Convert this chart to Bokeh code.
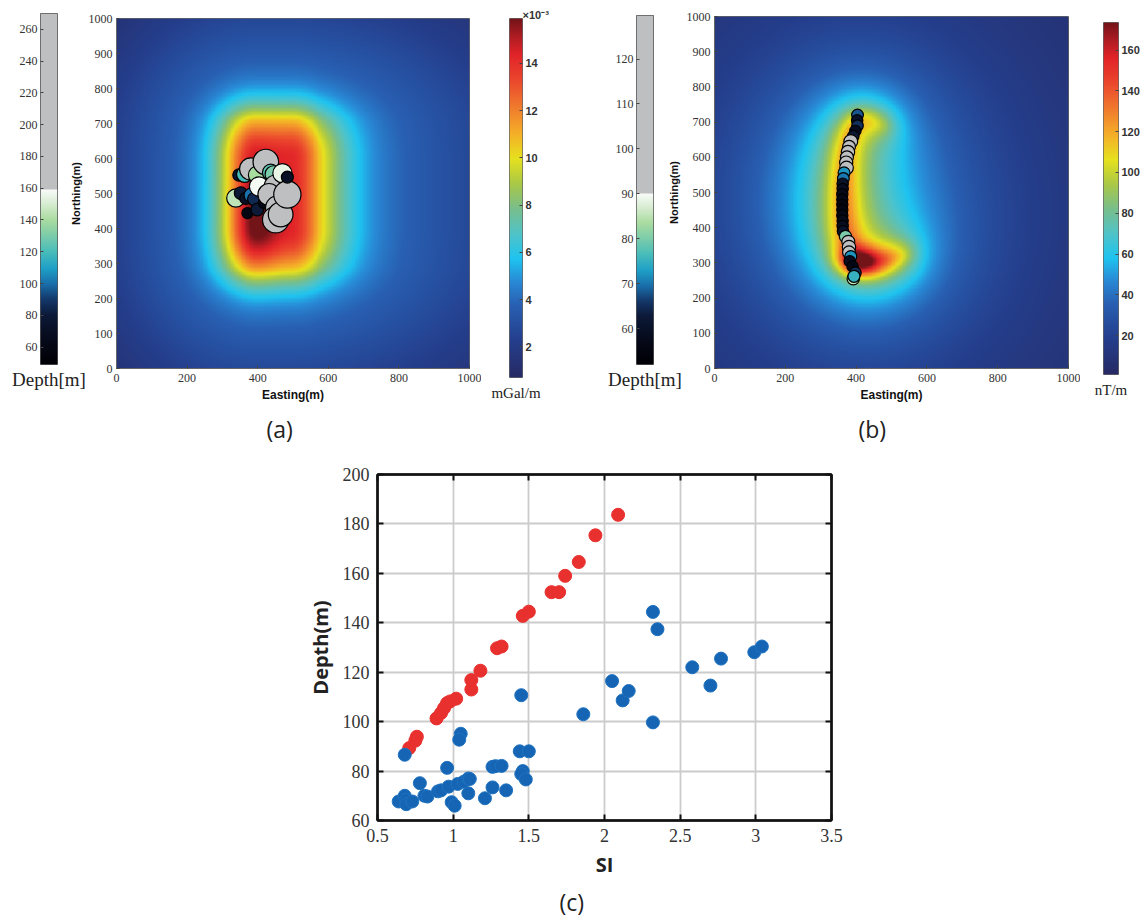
import numpy as np
from bokeh.plotting import figure
from bokeh.layouts import row, column
from bokeh.models import LinearAxis, FixedTicker, Range1d, Title
from bokeh.embed import file_html
from bokeh.resources import INLINE

# ------------------------------------------------------------------ data
# panel (c): structural index vs depth
red_si = [0.71, 0.75, 0.76, 0.89, 0.92, 0.94, 0.96, 0.98, 1.02, 1.12, 1.12, 1.18,
          1.29, 1.32, 1.46, 1.50, 1.65, 1.70, 1.74, 1.83, 1.94, 2.09]
red_depth = [89.3, 92.3, 93.9, 101.3, 103.5, 105.5, 107.5, 108.2, 109.3, 113.0, 116.8, 120.6,
             129.7, 130.4, 142.8, 144.5, 152.4, 152.4, 159.0, 164.6, 175.4, 183.7]
blue_si = [0.64, 0.68, 0.69, 0.69, 0.73, 0.68, 0.78, 0.81, 0.83, 0.90, 0.92, 0.96, 0.97, 0.99,
           1.01, 1.03, 1.05, 1.04, 1.07, 1.10, 1.11, 1.10, 1.21, 1.26, 1.26, 1.28, 1.32, 1.35,
           1.44, 1.50, 1.45, 1.46, 1.45, 1.48, 1.86, 2.05, 2.12, 2.16, 2.32, 2.32, 2.35, 2.58,
           2.70, 2.77, 2.99, 3.04]
blue_depth = [67.7, 70.0, 68.4, 66.6, 67.7, 86.6, 75.1, 70.0, 69.7, 71.8, 72.2, 81.3, 73.7, 67.4,
              66.0, 74.8, 95.1, 92.7, 75.7, 77.0, 76.8, 71.0, 69.0, 73.4, 81.7, 82.0, 82.1, 72.2,
              88.0, 88.0, 110.7, 80.0, 78.8, 76.6, 103.0, 116.4, 108.6, 112.4, 99.7, 144.4, 137.4,
              122.0, 114.6, 125.5, 128.1, 130.4]
si_ticks = [0.5, 1, 1.5, 2, 2.5, 3, 3.5]
depth_ticks = [60, 80, 100, 120, 140, 160, 180, 200]

# panel (a): gravity solutions
a_east = [347, 363, 380, 399, 338, 352, 366, 382, 390, 371, 399, 418, 404, 423, 437, 445,
          451, 432, 456, 451, 465, 470, 484, 484]
a_north = [553, 555, 570, 553, 487, 501, 486, 495, 484, 444, 454, 473, 520, 590, 560, 555,
           520, 497, 459, 425, 440, 558, 497, 547]
a_depth = [75, 120, 190, 140, 145, 80, 70, 100, 85, 60, 80, 62, 158, 230, 125, 130,
           200, 190, 210, 240, 220, 155, 250, 70]
# panel (b): magnetic solutions
b_east = [404, 403, 404, 398, 392, 385, 380, 377, 374, 372, 373, 366, 364, 362, 362, 361, 361,
          361, 361, 361, 362, 362, 363, 370, 378, 380, 380, 385, 382, 390, 398, 392, 394]
b_north = [720, 705, 690, 675, 660, 645, 630, 615, 600, 585, 570, 556, 540, 525, 510, 495, 480,
           465, 450, 435, 420, 405, 390, 375, 360, 345, 330, 318, 305, 290, 272, 255, 262]
b_depth = [68, 60, 65, 58, 62, 120, 95, 110, 100, 105, 115, 72, 70, 60, 58, 57, 56,
           55, 55, 56, 57, 58, 60, 80, 100, 110, 95, 72, 58, 56, 65, 85, 75]

map_x_ticks = [0, 200, 400, 600, 800, 1000]
map_y_ticks = [0, 100, 200, 300, 400, 500, 600, 700, 800, 900, 1000]

# colour-bar scales
a_cb_low, a_cb_high, a_cb_ticks = 0.7, 15.9, [2, 4, 6, 8, 10, 12, 14]          # x1e-3 mGal/m
b_cb_low, b_cb_high, b_cb_ticks = 1.0, 173.5, [20, 40, 60, 80, 100, 120, 140, 160]  # nT/m
a_dep_low, a_dep_high, a_dep_gray = 49.0, 270.0, 159.0
a_dep_ticks = [60, 80, 100, 120, 140, 160, 180, 200, 220, 240, 260]
b_dep_low, b_dep_high, b_dep_gray = 52.0, 129.7, 90.0
b_dep_ticks = [60, 70, 80, 90, 100, 110, 120]

# anomaly source models (used to synthesise the gridded maps)
a_core_e = (395, 495)                 # core of gravity body (easting)
a_core_n = (400, 600)                 # core of gravity body (northing)
a_edge_left = [0, 73, 145]            # distance beyond core -> yellow (1) / cyan (2) contour
a_edge_right = [0, 80, 192]
a_edge_top = [0, 112, 186]
a_edge_bottom = [0, 115, 192]
b_src_e = [555, 490, 430, 388, 366, 364, 370, 385, 402, 445, 495]
b_src_n = [330, 308, 294, 298, 400, 520, 625, 690, 712, 706, 684]
b_src_w = [0.9, 1.25, 1.3, 1.25, 1.0, 1.0, 1.0, 1.0, 1.0, 1.0, 0.85]

# ------------------------------------------------------------------ colour maps
JET = [(0.00, (38, 42, 100)), (0.10, (36, 62, 140)), (0.20, (40, 95, 178)), (0.27, (40, 140, 215)),
       (0.33, (30, 195, 240)), (0.40, (80, 195, 200)), (0.47, (120, 190, 140)), (0.54, (170, 200, 70)),
       (0.61, (230, 225, 30)), (0.68, (245, 175, 40)), (0.75, (240, 125, 45)), (0.83, (235, 70, 45)),
       (0.90, (225, 35, 40)), (0.95, (175, 28, 35)), (1.00, (115, 20, 25))]
DEPTH_CM = [(0.00, (0, 0, 5)), (0.12, (5, 8, 22)), (0.28, (12, 25, 55)), (0.37, (20, 55, 105)),
            (0.46, (25, 110, 170)), (0.55, (30, 160, 200)), (0.65, (75, 190, 185)),
            (0.74, (125, 205, 170)), (0.83, (170, 220, 160)), (0.92, (215, 236, 210)),
            (1.00, (248, 252, 248))]
GRAY = (190, 191, 193)
SERIF = "Liberation Serif"
SANS = "Liberation Sans"


def interp_rgb(stops, t):
    t = np.clip(np.asarray(t, float), 0, 1)
    pos = [s[0] for s in stops]
    cols = np.array([s[1] for s in stops], float)
    return np.stack([np.interp(t, pos, cols[:, k]) for k in range(3)], axis=-1)


def to_rgba(rgb):
    h, w = rgb.shape[:2]
    img = np.empty((h, w), dtype=np.uint32)
    v = img.view(dtype=np.uint8).reshape((h, w, 4))
    v[..., :3] = np.round(rgb).astype(np.uint8)
    v[..., 3] = 255
    return img


def depth_rgb(d, lo, thr):
    d = np.asarray(d, float)
    rgb = interp_rgb(DEPTH_CM, (d - lo) / (thr - lo))
    rgb[d > thr] = GRAY
    return rgb


def hexcol(c):
    return "#%02x%02x%02x" % tuple(int(round(x)) for x in c)


# ------------------------------------------------------------------ gridded fields
n = 260
g = np.linspace(0, 1000, n)
E, N = np.meshgrid(g, g)


def side_scale(dist, edges):
    # map a distance beyond the core onto contour units (1 = yellow, 2 = cyan, linear beyond)
    slope = edges[2] - edges[1]
    return np.where(dist <= edges[2], np.interp(dist, edges, [0, 1, 2]), 2 + (dist - edges[2]) / slope)


u = np.where(E < a_core_e[0], side_scale(a_core_e[0] - E, a_edge_left),
             np.where(E > a_core_e[1], side_scale(E - a_core_e[1], a_edge_right), 0.0))
v = np.where(N < a_core_n[0], side_scale(a_core_n[0] - N, a_edge_bottom),
             np.where(N > a_core_n[1], side_scale(N - a_core_n[1], a_edge_top), 0.0))
r = np.hypot(u, v)
field_a = (0.5 + 9.5 * np.exp(-0.45 * r ** 2) + 4.2 * np.exp(-(r / 6.0) ** 2)
           + 2.2 * np.exp(-((E - 400) / 60.0) ** 2 - ((N - 430) / 150.0) ** 2))

# (b) magnetic gradient: line sources along a C-shaped path
pe, pn, pw, pds = [], [], [], []
for i in range(len(b_src_e) - 1):
    e0, n0, w0 = b_src_e[i], b_src_n[i], b_src_w[i]
    e1, n1, w1 = b_src_e[i + 1], b_src_n[i + 1], b_src_w[i + 1]
    L = np.hypot(e1 - e0, n1 - n0)
    m = max(int(L / 4), 1)
    s = (np.arange(m) + 0.5) / m
    pe += list(e0 + s * (e1 - e0)); pn += list(n0 + s * (n1 - n0))
    pw += list(w0 + s * (w1 - w0)); pds += [L / m] * m
K1 = np.zeros_like(E); K2 = np.zeros_like(E)
h1, h2 = 42.0, 250.0
for e_, n_, w_, ds_ in zip(pe, pn, pw, pds):
    r2 = (E - e_) ** 2 + (N - n_) ** 2
    K1 += w_ * ds_ / (1 + r2 / h1 ** 2)
    K2 += w_ * ds_ / (1 + r2 / h2 ** 2)
field_b = (2 + 0.63 * K1 + 0.088 * K2
           + 52 * np.exp(-((E - 408) / 58.0) ** 2 - ((N - 305) / 38.0) ** 2))

img_a = to_rgba(interp_rgb(JET, (field_a - a_cb_low) / (a_cb_high - a_cb_low)))
img_b = to_rgba(interp_rgb(JET, (field_b - b_cb_low) / (b_cb_high - b_cb_low)))

# ------------------------------------------------------------------ helpers
TOP_H = 450
BOT_H = 470


def style_axis(ax, ticks, font, size, color="#333", style="normal", tin=3, tout=0, standoff=4):
    ax.ticker = FixedTicker(ticks=ticks)
    ax.major_label_text_font = font
    ax.major_label_text_font_size = f"{size}px"
    ax.major_label_text_font_style = style
    ax.major_label_text_color = color
    ax.major_tick_in = tin
    ax.major_tick_out = tout
    ax.major_tick_line_color = "#444"
    ax.minor_tick_line_color = None
    ax.major_label_standoff = standoff


def label_axis(p, text, size, standoff, font=SERIF, side="below"):
    ax = LinearAxis(ticker=FixedTicker(ticks=[]), axis_line_color=None,
                    major_tick_line_color=None, minor_tick_line_color=None,
                    major_label_standoff=0, axis_label=text, axis_label_text_font=font,
                    axis_label_text_font_size=f"{size}px", axis_label_text_font_style="normal",
                    axis_label_text_color="#222", axis_label_standoff=standoff)
    p.add_layout(ax, side)


def new_fig(width, height, xr, yr, l, r, t, b, **kw):
    p = figure(width=width, height=height, x_range=xr, y_range=yr, title=None,
               min_border_left=l, min_border_right=r, min_border_top=t, min_border_bottom=b,
               toolbar_location=None, output_backend="svg", frame_align=False, **kw)
    p.grid.visible = False
    p.border_fill_color = None
    return p


def top_fig(width, left, fw, top, fh, shift=0, **kw):
    return new_fig(width, TOP_H, kw.pop("xr"), kw.pop("yr"), left, width - left - fw,
                   top, TOP_H - top - fh, margin=(0, 0, 0, shift), **kw)


def depth_bar(width, left, top, fh, lo, hi, thr, ticks):
    p = top_fig(width, left, 17, top, fh, xr=Range1d(0, 1), yr=Range1d(lo, hi), x_axis_type=None)
    vals = np.linspace(lo, hi, 500)
    p.image_rgba(image=[to_rgba(depth_rgb(vals, lo, thr)[:, None, :])], x=0, y=lo, dw=1, dh=hi - lo)
    ax = p.yaxis[0]
    style_axis(ax, ticks, SERIF, 12, tin=3, standoff=3)
    ax.axis_line_color = None
    p.outline_line_color = "#555"
    label_axis(p, "Depth[m]", 19, 4)
    return p


def jet_bar(width, left, barw, top, fh, lo, hi, ticks, unit):
    p = top_fig(width, left, barw, top, fh, xr=Range1d(0, 1), yr=Range1d(lo, hi),
                x_axis_type=None, y_axis_location="right")
    vals = np.linspace(lo, hi, 500)
    p.image_rgba(image=[to_rgba(interp_rgb(JET, (vals - lo) / (hi - lo))[:, None, :])],
                 x=0, y=lo, dw=1, dh=hi - lo)
    ax = p.yaxis[0]
    style_axis(ax, ticks, SANS, 11, style="bold", tin=3, standoff=3)
    ax.axis_line_color = None
    p.outline_line_color = "#666"
    label_axis(p, unit, 15, 7)
    return p


def map_fig(width, left, fw, top, fh, img, east, north, cols, sizes, tag, tag_offset, shift):
    p = top_fig(width, left, fw, top, fh, shift=shift, xr=Range1d(0, 1000), yr=Range1d(0, 1000))
    p.image_rgba(image=[img], x=0, y=0, dw=1000, dh=1000)
    p.scatter(east, north, size=sizes, fill_color=cols, line_color="black", line_width=1.2)
    style_axis(p.xaxis[0], map_x_ticks, SERIF, 12, tin=3, standoff=5)
    style_axis(p.yaxis[0], map_y_ticks, SERIF, 12, tin=3, standoff=4)
    for ax, lab in ((p.xaxis[0], "Easting(m)"), (p.yaxis[0], "Northing(m)")):
        ax.axis_label = lab
        ax.axis_label_text_font = SANS
        ax.axis_label_text_font_size = "12px" if lab.startswith("E") else "11px"
        ax.axis_label_text_font_style = "bold"
        ax.axis_label_text_color = "#111"
        ax.axis_label_standoff = 3 if lab.startswith("E") else 4
        ax.axis_line_color = "#666"
    p.outline_line_color = "#666"
    p.add_layout(Title(text=tag, align="left", offset=tag_offset, standoff=12,
                       text_font="Open Sans", text_font_size="23px", text_font_style="normal",
                       text_color="#222"), "below")
    return p


# ------------------------------------------------------------------ top row
A1 = depth_bar(86, 40, 13, 351, a_dep_low, a_dep_high, a_dep_gray, a_dep_ticks)

a_cols = [hexcol(c) for c in depth_rgb(a_depth, a_dep_low, a_dep_gray)]
a_sizes = [6 + 0.085 * d_ for d_ in a_depth]
A2 = map_fig(416, 51, 353, 18, 351, img_a, a_east, a_north, a_cols, a_sizes, "(a)", 150, -21)

A3 = jet_bar(109, 28, 13, 18, 359, a_cb_low, a_cb_high, a_cb_ticks, "mGal/m")
A3.add_layout(Title(text="\u00d710\u207b\u00b3", align="left", offset=13, standoff=-4,
                    text_font=SANS, text_font_size="11px", text_font_style="bold",
                    text_color="#333"), "above")

B1 = depth_bar(96, 46, 15, 349, b_dep_low, b_dep_high, b_dep_gray, b_dep_ticks)

b_cols = [hexcol(c) for c in depth_rgb(b_depth, b_dep_low, b_dep_gray)]
b_sizes = [11 + 0.04 * (d_ - 50) for d_ in b_depth]
B2 = map_fig(416, 50, 354, 16, 353, img_b, b_east, b_north, b_cols, b_sizes, "(b)", 144, -22)

B3 = jet_bar(64, 23, 15, 22, 352, b_cb_low, b_cb_high, b_cb_ticks, "nT/m")

# ------------------------------------------------------------------ panel (c)
C = new_fig(1144, BOT_H, Range1d(0.5, 3.5), Range1d(60, 200), 377, 313, 24, 96)
C.border_fill_color = "white"
C.grid.visible = True
C.xgrid.ticker = FixedTicker(ticks=si_ticks)
C.ygrid.ticker = FixedTicker(ticks=depth_ticks)
C.grid.grid_line_color = "#cccccc"
C.grid.grid_line_width = 1.8
C.scatter(red_si, red_depth, size=13, fill_color="#e8302e", line_color="#e8302e")
C.scatter(blue_si, blue_depth, size=13, fill_color="#1565b4", line_color="#1f72c0")
for ax, ticks, lab in ((C.xaxis[0], si_ticks, "SI"), (C.yaxis[0], depth_ticks, "Depth(m)")):
    style_axis(ax, ticks, SERIF, 18, color="#333", tin=6, standoff=8)
    ax.major_tick_line_color = "#111"
    ax.major_tick_line_width = 2
    ax.axis_line_color = "#111"
    ax.axis_line_width = 2.5
    ax.axis_label = lab
    ax.axis_label_text_font = "Open Sans"
    ax.axis_label_text_font_size = "20px"
    ax.axis_label_text_font_style = "bold"
    ax.axis_label_text_color = "#222"
    ax.axis_label_standoff = 6
C.xaxis[0].major_label_overrides = {1: "1", 2: "2", 3: "3"}
for side, ticks in (("above", si_ticks), ("right", depth_ticks)):
    ax = LinearAxis(ticker=FixedTicker(ticks=ticks), major_label_text_color=None,
                    major_label_text_font_size="8px",
                    major_tick_in=6, major_tick_out=0, minor_tick_line_color=None,
                    major_tick_line_color="#111", major_tick_line_width=2,
                    axis_line_color="#111", axis_line_width=2.5, major_label_standoff=0)
    C.add_layout(ax, side)
C.outline_line_color = "#111"
C.outline_line_width = 2
C.add_layout(Title(text="(c)", align="left", offset=182, standoff=6, text_font="Open Sans",
                   text_font_size="23px", text_font_style="normal", text_color="#222"), "below")

layout = column(row(A1, A2, A3, B1, B2, B3), C)
open("out.html", "w").write(file_html(layout, INLINE))
